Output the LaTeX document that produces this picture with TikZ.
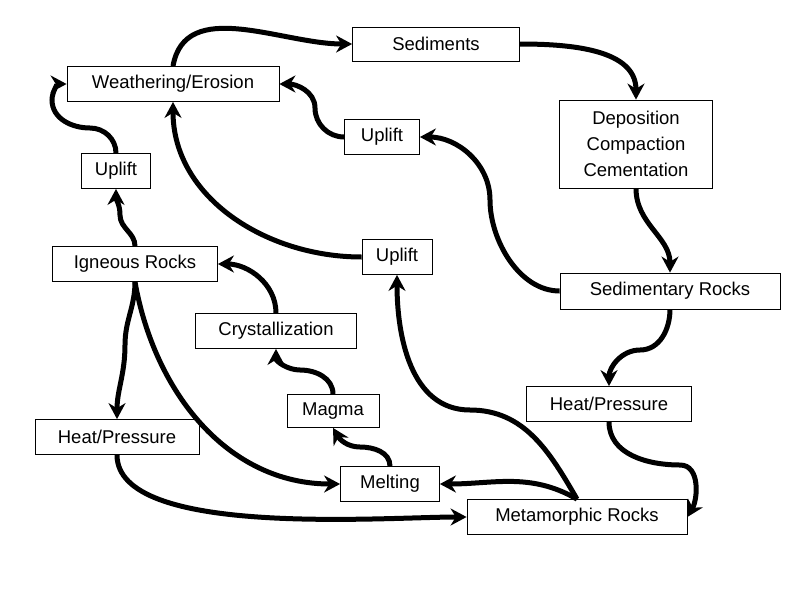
\documentclass[tikz,border=0pt]{standalone}
\usepackage{fontspec}
\setmainfont{Liberation Sans}
\usetikzlibrary{arrows.meta}
\begin{document}
\begin{tikzpicture}[x=1pt,y=-1pt,
 box/.style={draw,line width=0.8pt,fill=white,inner sep=0pt,font=\fontsize{18.5}{26}\selectfont,align=center},
 ar/.style={line width=5pt,-{Stealth[length=16pt,width=17pt]}}]
\useasboundingbox (0,0) rectangle (800,600);
\node[box,minimum width=167,minimum height=34] (sed) at (436,44) {Sediments};
\node[box,minimum width=212,minimum height=35] (we) at (173,84) {Weathering/Erosion};
\node[box,minimum width=153,minimum height=88] (dep) at (636,144) {Deposition\\Compaction\\Cementation};
\node[box,minimum width=75,minimum height=35] (u1) at (382,137) {Uplift};
\node[box,minimum width=69,minimum height=35] (u2) at (116,171) {Uplift};
\node[box,minimum width=165,minimum height=35] (ig) at (135,264) {Igneous Rocks};
\node[box,minimum width=70,minimum height=35] (u3) at (397,257) {Uplift};
\node[box,minimum width=220,minimum height=36] (sr) at (670,291) {Sedimentary Rocks};
\node[box,minimum width=161,minimum height=35] (cr) at (276,331) {Crystallization};
\node[box,minimum width=165,minimum height=35] (hp1) at (609,404) {Heat/Pressure};
\node[box,minimum width=92,minimum height=33] (mg) at (333,411) {Magma};
\node[box,minimum width=164,minimum height=35] (hp2) at (117,437) {Heat/Pressure};
\node[box,minimum width=99,minimum height=35] (ml) at (390,484) {Melting};
\node[box,minimum width=220,minimum height=35] (mr) at (577,517) {Metamorphic Rocks};
\draw[ar] (we.north) to[out=80,in=180] (sed.west);
\draw[ar] (sed.east) to[out=0,in=90] (dep.north);
\draw[ar] (dep.south) to[out=-90,in=90] (sr.north);
\draw[ar] (sr.west) to[out=180,in=-90,looseness=0.9] (490,200) to[out=90,in=0] (u1.east);
\draw[ar] (u1.west) to[out=180,in=-90] (315,108) to[out=90,in=0] (we.east);
\draw[ar] (u3.west) to[out=180,in=-90,looseness=1] (we.south);
\draw[ar] (ig.north) to[out=90,in=-90] (120,215) to[out=90,in=-90] (u2.south);
\draw[ar] (u2.north) to[out=90,in=0] (90,128) to[out=180,in=-90] (52,100) to[out=90,in=180] (we.west);
\draw[ar] (sr.south) to[out=-90,in=0] (640,350) to[out=180,in=90] (hp1.north);
\draw[ar] (hp1.south) to[out=-90,in=180] (680,465) to[out=0,in=60] (mr.east);
\draw[ar] (mr.north) to[out=150,in=0] (ml.east);
\draw[ar] (mr.north) to[out=120,in=0] (470,410) to[out=180,in=-90] (u3.south);
\draw[ar] (ml.north) to[out=90,in=0] (360,447) to[out=180,in=-60] (mg.south);
\draw[ar] (mg.north) to[out=90,in=0] (300,370) to[out=180,in=-90] (cr.south);
\draw[ar] (cr.north) to[out=90,in=0] (ig.east);
\draw[ar] (ig.south) to[out=-90,in=90] (125,345) to[out=-90,in=90] (hp2.north);
\draw[ar] (ig.south) to[out=-80,in=180,looseness=1] (ml.west);
\draw[ar] (hp2.south) to[out=-90,in=180,looseness=0.6] (mr.west);
\end{tikzpicture}
\end{document}
